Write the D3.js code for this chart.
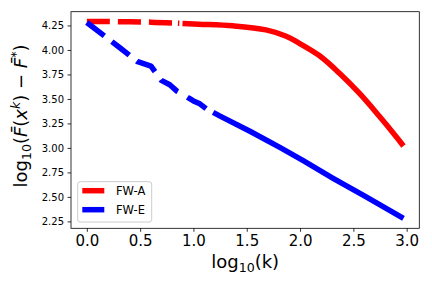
<!DOCTYPE html>
<html><head><meta charset="utf-8">
<script src="https://cdn.jsdelivr.net/npm/d3@7/dist/d3.min.js"></script>
<style>
html,body{margin:0;padding:0;background:#fff;}
svg{display:block;font-family:"DejaVu Sans",sans-serif;}
</style></head><body>
<svg id="chart" width="432" height="288"></svg>
<script>
// ---- data ----
const seriesNames = ["FW-A", "FW-E"];
const seriesColors = ["#ff0000", "#0000ff"];
const fwaX = [0, 0.301, 0.602, 0.87, 1.05, 1.37, 1.68, 1.87, 1.99, 2.18, 2.37, 2.56, 2.74, 2.90, 2.97];
const fwaY = [4.29, 4.289, 4.284, 4.272, 4.263, 4.246, 4.205, 4.14, 4.07, 3.943, 3.762, 3.553, 3.328, 3.117, 3.02];
const fweX = [0, 0.301, 0.477, 0.602, 0.699, 0.778, 0.845, 0.903, 0.954, 1.0, 1.06, 1.12, 1.25, 1.53, 1.81, 2.03, 2.31, 2.62, 2.97];
const fweY = [4.28, 4.03, 3.88, 3.835, 3.69, 3.645, 3.58, 3.545, 3.51, 3.48, 3.45, 3.40, 3.325, 3.17, 3.005, 2.87, 2.69, 2.50, 2.28];
const xTicks = [0.0, 0.5, 1.0, 1.5, 2.0, 2.5, 3.0];
const yTicks = [2.25, 2.50, 2.75, 3.00, 3.25, 3.50, 3.75, 4.00, 4.25];

// dash patterns: dashes near the start, then solid
const dashPatterns = [
  "23,8,23,8,23,6,1.5,3,10000,0",
  "22,9.5,22,9.5,22,10,21,11,22,8,10000,0"
];
const curves = [d3.curveCatmullRom.alpha(0.5), d3.curveLinear];

const series = [
  {name: seriesNames[0], color: seriesColors[0], pts: fwaX.map((x,i)=>({x, y: fwaY[i]})), dash: dashPatterns[0], curve: curves[0]},
  {name: seriesNames[1], color: seriesColors[1], pts: fweX.map((x,i)=>({x, y: fweY[i]})), dash: dashPatterns[1], curve: curves[1]}
];

const svg = d3.select("#chart");
const L = 71, R = 419.3, T = 11.7, B = 228.3;

const allX = fwaX.concat(fweX), allY = fwaY.concat(fweY);
const [x0, x1] = d3.extent(allX), [y0, y1] = d3.extent(allY);
const px = (x1 - x0) * 0.05, py = (y1 - y0) * 0.05;
const x = d3.scaleLinear().domain([x0 - px, x1 + px]).range([L, R]);
const y = d3.scaleLinear().domain([y0 - py, y1 + py]).range([B, T]);

svg.append("clipPath").attr("id","clip").append("rect")
  .attr("x", L).attr("y", T).attr("width", R-L).attr("height", B-T);

const g = svg.append("g").attr("clip-path","url(#clip)");
series.forEach(s => {
  const line = d3.line().x(d => x(d.x)).y(d => y(d.y)).curve(s.curve);
  g.append("path").datum(s.pts)
    .attr("d", line)
    .attr("fill","none")
    .attr("stroke", s.color)
    .attr("stroke-width", 5.5)
    .attr("stroke-dasharray", s.dash)
    .attr("stroke-linejoin","round");
});

// axes
const xAxis = d3.axisBottom(x).tickValues(xTicks).tickFormat(d3.format(".1f")).tickSize(3.5).tickPadding(3.5);
const yAxis = d3.axisLeft(y).tickValues(yTicks).tickFormat(d3.format(".2f")).tickSize(3.5).tickPadding(3.5);

const gx = svg.append("g").attr("transform", `translate(0,${B})`).call(xAxis);
gx.select(".domain").remove();
gx.selectAll("line").attr("stroke","#000").attr("stroke-width",0.8);
gx.selectAll("text").attr("font-size",15).attr("fill","#000").attr("font-family","DejaVu Sans");

const gy = svg.append("g").attr("transform", `translate(${L},0)`).call(yAxis);
gy.select(".domain").remove();
gy.selectAll("line").attr("stroke","#000").attr("stroke-width",0.8);
gy.selectAll("text").attr("font-size",10).attr("fill","#000").attr("font-family","DejaVu Sans");

// frame
svg.append("rect").attr("x",L).attr("y",T).attr("width",R-L).attr("height",B-T)
  .attr("fill","none").attr("stroke","#000").attr("stroke-width",0.8);

// x label
const xl = svg.append("text").attr("x",(L+R)/2).attr("y",268).attr("text-anchor","middle")
  .attr("font-size",18).attr("fill","#000");
xl.append("tspan").text("log");
xl.append("tspan").attr("font-size",12.6).attr("dy",4).text("10");
xl.append("tspan").attr("dy",-4).text("(k)");

// y label
const yl = svg.append("text").attr("transform",`translate(27,${(T+B)/2 - 4}) rotate(-90)`)
  .attr("text-anchor","middle").attr("font-size",18).attr("fill","#000");
yl.append("tspan").text("log");
yl.append("tspan").attr("font-size",12.6).attr("dy",4).text("10");
yl.append("tspan").attr("dy",-4).text("(");
yl.append("tspan").attr("font-style","italic").text("F\u0304");
yl.append("tspan").text("(");
yl.append("tspan").attr("font-style","italic").text("x");
yl.append("tspan").attr("font-style","italic").attr("font-size",12.6).attr("dy",-7).text("k");
yl.append("tspan").attr("dy",7).text(") \u2212 ");
yl.append("tspan").attr("font-style","italic").text("F\u0304");
yl.append("tspan").attr("font-size",12.6).attr("dy",-7).text("*");
yl.append("tspan").attr("dy",7).text(")");

// legend
const lg = svg.append("g");
lg.append("rect").attr("x",77.7).attr("y",181.7).attr("width",74).attr("height",40.3)
  .attr("rx",2.5).attr("fill","#fff").attr("fill-opacity",0.8)
  .attr("stroke","#cccccc").attr("stroke-width",1);
series.forEach((s,i) => {
  const yy = 190.7 + i*19;
  lg.append("line").attr("x1",82.3).attr("x2",104.3).attr("y1",yy).attr("y2",yy)
    .attr("stroke",s.color).attr("stroke-width",5.5).attr("stroke-dasharray","none");
  lg.append("text").attr("x",116).attr("y",yy+4).attr("font-size",11.5).attr("fill","#000").text(s.name);
});
</script>
</body></html>
